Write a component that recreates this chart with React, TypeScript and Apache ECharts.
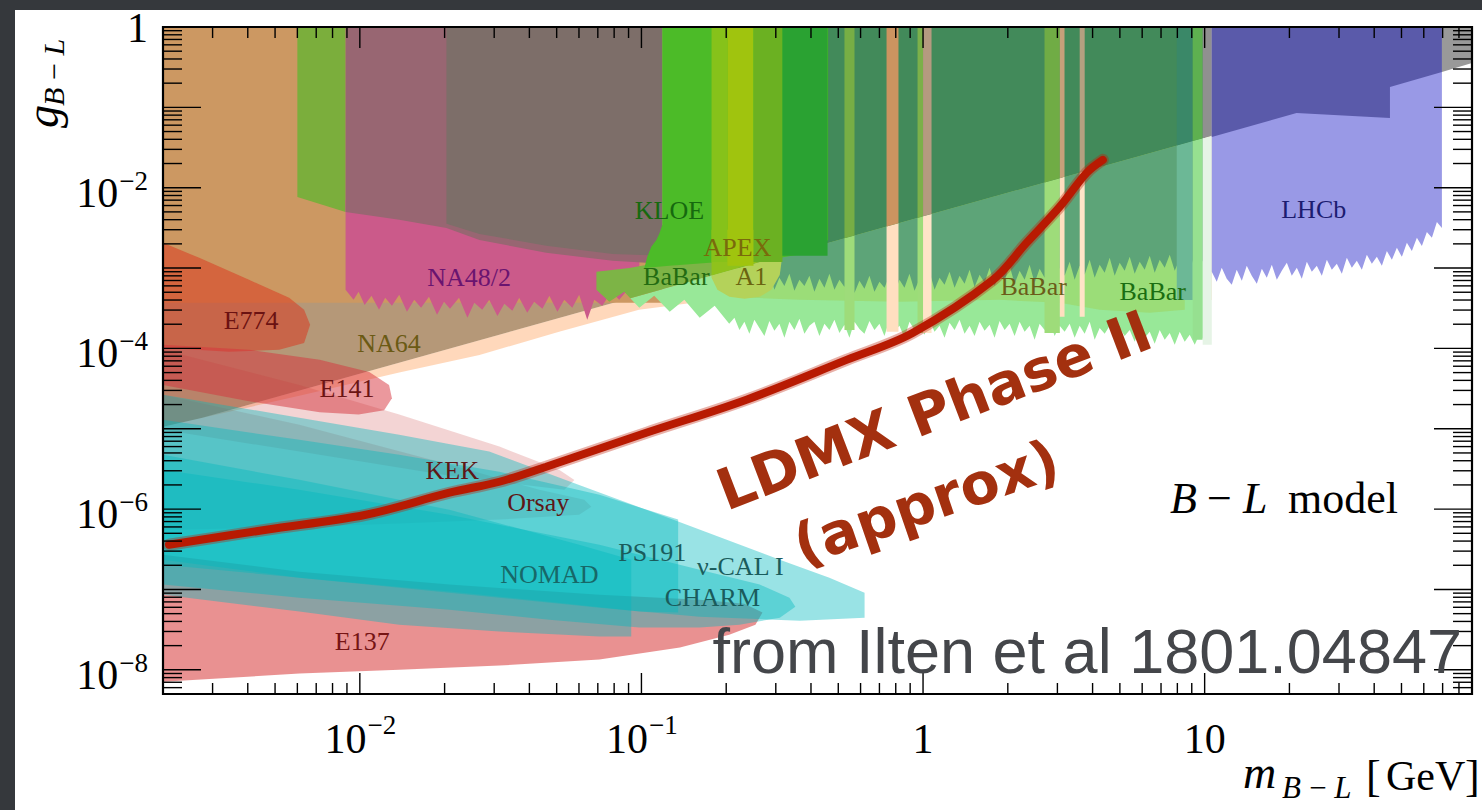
import React, { useEffect, useRef } from "react";
import * as echarts from "echarts";

type Pt = [number, number];

// ---------- axis ranges (GeV, coupling) ----------
const X_MIN = 0.002;
const X_MAX = 89;
const Y_MIN = 5e-9;
const Y_MAX = 1;

// ---------- ticks ----------
const X_MAJOR = [0.01, 0.1, 1, 10];
const X_DECADES = [0.001, 0.01, 0.1, 1, 10];
const Y_DECADES = [1e-9, 1e-8, 1e-7, 1e-6, 1e-5, 1e-4, 1e-3, 1e-2, 1e-1];
const MINOR_MULT = [2, 3, 4, 5, 6, 7, 8, 9];
const Y_MAJOR = [1e-8, 1e-7, 1e-6, 1e-5, 1e-4, 1e-3, 1e-2, 1e-1];

const X_LABEL_VALUES = [0.01, 0.1, 1, 10];
const X_LABEL_BASE = ["10", "10", "1", "10"];
const X_LABEL_EXP = ["\u22122", "\u22121", "", ""];
const Y_LABEL_VALUES = [1, 1e-2, 1e-4, 1e-6, 1e-8];
const Y_LABEL_BASE = ["1", "10", "10", "10", "10"];
const Y_LABEL_EXP = ["", "\u22122", "\u22124", "\u22126", "\u22128"];

// line separating the darker (upper) and lighter (lower) shading
const SPLIT_LINE: Pt[] = [[0.002, 1.0e-5], [89, 0.357]];

// ---------- exclusion regions [mass GeV, coupling] ----------
const NA64: Pt[] = [[0.002, 1], [10.6, 1], [10.6, 4.0e-4], [0.223, 4.38e-4], [0.098, 3.02e-4], [0.051, 1.61e-4], [0.0266, 8.3e-5], [0.0138, 5.0e-5], [0.0061, 2.57e-5], [0.002, 1.06e-5]];
const TAN_BLOCK: Pt[] = [[0.002, 1], [0.1187, 1], [0.1187, 3.69e-4], [0.002, 3.69e-4]];
const GREEN_BLOCK: Pt[] = [[0.006, 1], [0.0089, 1], [0.0089, 5.0e-3], [0.006, 7.68e-3]];
const NA48: Pt[] = [[0.0089, 7.05e-3], [0.0983, 7.05e-3], [0.0983, 4.64e-4], [0.0906, 5.67e-4], [0.0834, 4.02e-4], [0.0782, 5.06e-4], [0.0726, 3.39e-4], [0.068, 4.02e-4], [0.0642, 2.27e-4], [0.0601, 4.64e-4], [0.0568, 3.2e-4], [0.0532, 4.02e-4], [0.0503, 2.85e-4], [0.0471, 4.51e-4], [0.0445, 3.11e-4], [0.0416, 3.8e-4], [0.0393, 2.77e-4], [0.0368, 4.26e-4], [0.0348, 2.94e-4], [0.0326, 3.59e-4], [0.0308, 2.54e-4], [0.0288, 4.02e-4], [0.0272, 3.02e-4], [0.0255, 3.69e-4], [0.0241, 2.4e-4], [0.0225, 4.26e-4], [0.0209, 3.11e-4], [0.0199, 3.8e-4], [0.0188, 2.62e-4], [0.0176, 4.38e-4], [0.0165, 3.2e-4], [0.0156, 4.02e-4], [0.0147, 2.85e-4], [0.0138, 4.64e-4], [0.013, 3.39e-4], [0.0123, 4.26e-4], [0.0117, 3.02e-4], [0.011, 4.51e-4], [0.0104, 3.48e-4], [0.0099, 5.06e-4], [0.0095, 4.02e-4], [0.0089, 5.36e-4]];
const MAUVE: Pt[] = [[0.0089, 1], [0.1187, 1], [0.1187, 1.13e-3], [0.079, 1.23e-3], [0.0459, 1.55e-3], [0.0266, 2.24e-3], [0.0203, 3.16e-3], [0.0138, 3.98e-3], [0.0089, 5.0e-3]];
const GREYBROWN: Pt[] = [[0.0203, 1], [0.1187, 1], [0.1187, 1.42e-3], [0.079, 1.5e-3], [0.0459, 1.89e-3], [0.0266, 2.66e-3], [0.0203, 3.55e-3]];

// BaBar lower edges, sampled on a common mass grid
const BABAR_EDGE_M = [0.2139, 0.2228, 0.2321, 0.2417, 0.2518, 0.2624, 0.2733, 0.2847, 0.2966, 0.309, 0.3219, 0.3353, 0.3493, 0.3639, 0.3791, 0.3949, 0.4114, 0.4286, 0.4465, 0.4651, 0.4845, 0.5048, 0.5259, 0.5478, 0.5707, 0.5945, 0.6193, 0.6452, 0.6721, 0.7002, 0.7294, 0.7599, 0.7916, 0.8247, 0.8591, 0.895, 0.9327, 0.9717, 1.0123, 1.0546, 1.0986, 1.1445, 1.1923, 1.2421, 1.294, 1.348, 1.4043, 1.463, 1.524, 1.5877, 1.654, 1.7231, 1.795, 1.87, 1.9481, 2.0294, 2.1142, 2.2025, 2.2945, 2.3903, 2.4901, 2.5941, 2.7024, 2.8153, 2.9329, 3.0553, 3.1829, 3.3158, 3.4543, 3.5986, 3.7489, 3.9054, 4.0685, 4.2384, 4.4154, 4.5998, 4.7919, 4.992, 5.2005, 5.4177, 5.6439, 5.8796, 6.1251, 6.3809, 6.6474, 6.925, 7.2141, 7.5154, 7.8293, 8.1562, 8.4968, 8.8516, 9.2213, 9.6064, 10.007];
const BABAR_LIGHT_EDGE_G = [2.4e-4, 1.7e-4, 2.14e-4, 1.52e-4, 2.27e-4, 1.8e-4, 1.43e-4, 2.2e-4, 1.66e-4, 2.02e-4, 1.36e-4, 2.14e-4, 1.7e-4, 2.34e-4, 1.52e-4, 1.91e-4, 2.14e-4, 1.43e-4, 2.02e-4, 1.7e-4, 2.27e-4, 1.56e-4, 1.97e-4, 1.36e-4, 2.14e-4, 1.75e-4, 1.52e-4, 2.2e-4, 1.7e-4, 2.02e-4, 1.43e-4, 2.27e-4, 1.66e-4, 1.91e-4, 1.36e-4, 2.14e-4, 1.7e-4, 2.02e-4, 1.48e-4, 2.2e-4, 1.61e-4, 1.91e-4, 1.36e-4, 2.08e-4, 1.7e-4, 2.27e-4, 1.52e-4, 1.91e-4, 1.43e-4, 2.14e-4, 1.66e-4, 1.97e-4, 1.36e-4, 2.2e-4, 1.7e-4, 2.02e-4, 1.43e-4, 2.14e-4, 1.61e-4, 1.91e-4, 1.28e-4, 2.02e-4, 1.7e-4, 2.14e-4, 1.43e-4, 1.91e-4, 1.61e-4, 2.02e-4, 1.36e-4, 1.91e-4, 1.52e-4, 2.14e-4, 1.28e-4, 1.8e-4, 1.52e-4, 1.91e-4, 1.21e-4, 1.8e-4, 1.43e-4, 1.7e-4, 1.21e-4, 1.8e-4, 1.36e-4, 1.61e-4, 1.14e-4, 1.7e-4, 1.28e-4, 1.56e-4, 1.11e-4, 1.61e-4, 1.21e-4, 1.48e-4, 1.11e-4, 1.52e-4, 1.21e-4];
const BABAR_MID_EDGE_G = [1.065e-3, 9.5e-4, 6.36e-4, 8.47e-4, 5.67e-4, 8.0e-4, 6.74e-4, 8.97e-4, 5.36e-4, 7.55e-4, 6.0e-4, 8.47e-4, 5.21e-4, 7.13e-4, 6.0e-4, 8.0e-4, 5.06e-4, 7.34e-4, 5.67e-4, 8.47e-4, 5.36e-4, 7.13e-4, 5.83e-4, 8.23e-4, 4.91e-4, 6.93e-4, 5.51e-4, 8.0e-4, 5.06e-4, 6.74e-4, 5.67e-4, 8.0e-4, 4.78e-4, 7.13e-4, 5.67e-4, 8.47e-4, 5.21e-4, 7.34e-4, 6.0e-4, 8.97e-4, 5.36e-4, 7.55e-4, 6.18e-4, 8.97e-4, 5.67e-4, 8.0e-4, 6.36e-4, 9.5e-4, 5.83e-4, 8.23e-4, 6.55e-4, 1.006e-3, 6.0e-4, 8.72e-4, 6.93e-4, 1.065e-3, 6.36e-4, 9.23e-4, 7.13e-4, 1.096e-3, 6.55e-4, 9.77e-4, 7.55e-4, 1.128e-3, 6.93e-4, 1.006e-3, 8.0e-4, 1.194e-3, 7.13e-4, 1.065e-3, 8.23e-4, 1.265e-3, 7.55e-4, 1.096e-3, 8.72e-4, 1.339e-3, 8.0e-4, 1.161e-3, 9.23e-4, 1.378e-3, 8.47e-4, 1.194e-3, 9.5e-4, 1.418e-3, 8.72e-4, 1.265e-3, 1.006e-3, 1.46e-3, 9.23e-4, 1.301e-3, 1.065e-3, 1.546e-3, 9.77e-4, 1.339e-3, 1.128e-3];
const BABAR_LIGHT_LEFT: Pt[] = [[0.205, 2.02e-4], [0.182, 3.39e-4], [0.161, 2.4e-4], [0.142, 4.02e-4], [0.126, 2.85e-4], [0.111, 4.51e-4], [0.0983, 3.2e-4], [0.0869, 5.06e-4], [0.0769, 3.8e-4], [0.0692, 5.36e-4], [0.0692, 9.0e-4], [0.0906, 1.0e-3], [0.1187, 1.19e-3]];
const BABAR_OLIVE: Pt[] = [[0.2138, 1], [8.5, 1], [8.5, 3.02e-4], [6.38, 2.77e-4], [4.24, 3.02e-4], [3.06, 3.69e-4], [1.87, 4.02e-4], [0.826, 3.8e-4], [0.365, 4.02e-4], [0.2138, 4.38e-4]];

// vetoed mass windows in the BaBar search
const GAP_LO = [0.526, 0.742, 0.956, 1.0, 2.7, 3.06, 3.6, 7.96, 9.07, 9.84];
const GAP_HI = [0.571, 0.818, 1.0, 1.072, 3.06, 3.18, 3.75, 9.07, 9.84, 10.6];
const GAP_G = [1.7e-4, 1.61e-4, 1.56e-4, 1.56e-4, 1.56e-4, 2.47e-4, 2.47e-4, 4.0e-4, 1.28e-4, 1.11e-4];

const KLOE: Pt[] = [[0.1187, 1], [0.46, 1], [0.46, 2.24e-3], [0.4116, 1.59e-3], [0.31, 1.34e-3], [0.1891, 1.19e-3], [0.1257, 1.065e-3], [0.1024, 1.0e-3], [0.1049, 1.38e-3], [0.1084, 1.84e-3], [0.113, 2.24e-3], [0.116, 2.74e-3], [0.1187, 3.45e-3]];
const A1: Pt[] = [[0.1774, 2.99e-3], [0.3142, 2.99e-3], [0.3142, 1.19e-3], [0.31, 8.23e-4], [0.2894, 5.36e-4], [0.263, 4.38e-4], [0.2322, 4.14e-4], [0.2053, 4.38e-4], [0.1861, 5.36e-4], [0.1774, 7.55e-4]];
const KBAR_LO = [0.1774, 0.202, 0.25, 0.3167];
const KBAR_HI = [0.202, 0.25, 0.3167, 0.458];
const KBAR_G = [1.19e-3, 1.065e-3, 1.19e-3, 1.42e-3];

// LHCb lower edge
const LHCB_EDGE_M = [10.6, 11.04, 11.5, 11.98, 12.48, 13.0, 13.55, 14.11, 14.7, 15.32, 15.96, 16.62, 17.32, 18.04, 18.79, 19.58, 20.39, 21.25, 22.13, 23.06, 24.02, 25.02, 26.07, 27.16, 28.29, 29.47, 30.7, 31.98, 33.32, 34.71, 36.16, 37.67, 39.24, 40.88, 42.59, 44.37, 46.22, 48.15, 50.16, 52.25, 54.43, 56.71, 59.07, 61.54, 64.12, 66.79, 69.58];
const LHCB_EDGE_G = [8.97e-4, 6.74e-4, 1.006e-3, 7.34e-4, 6.18e-4, 9.5e-4, 6.93e-4, 1.065e-3, 8.0e-4, 6.36e-4, 9.77e-4, 7.55e-4, 1.096e-3, 7.13e-4, 9.23e-4, 1.161e-3, 8.0e-4, 1.006e-3, 7.34e-4, 1.194e-3, 8.97e-4, 1.065e-3, 8.0e-4, 1.265e-3, 9.5e-4, 1.128e-3, 8.47e-4, 1.339e-3, 1.006e-3, 1.229e-3, 9.5e-4, 1.46e-3, 1.128e-3, 1.378e-3, 1.065e-3, 1.636e-3, 1.265e-3, 1.783e-3, 1.378e-3, 2.058e-3, 1.636e-3, 2.375e-3, 1.888e-3, 2.82e-3, 2.375e-3, 3.755e-3, 3.162e-3];
const LHCB_TOP_G = 4.59e-3;
const LHCB_UPPER: Pt[] = [[10.6, 1], [69.6, 1], [69.6, 0.276], [45.5, 0.179], [45.5, 0.0738], [21.2, 0.0852], [10.6, 0.0428]];
const HIGHMASS: Pt[] = [[69.6, 1], [89, 1], [89, 0.357], [69.6, 0.276]];

const E774: Pt[] = [[0.002, 2.06e-3], [0.00269, 1.34e-3], [0.00404, 7.13e-4], [0.00561, 4.26e-4], [0.00634, 3.02e-4], [0.00666, 1.97e-4], [0.00634, 1.17e-4], [0.00517, 9.6e-5], [0.00343, 9.1e-5], [0.002, 1.02e-4]];
const E141: Pt[] = [[0.002, 1.11e-4], [0.00404, 9.6e-5], [0.0072, 7.2e-5], [0.0108, 5.1e-5], [0.0127, 3.5e-5], [0.013, 2.4e-5], [0.0122, 1.7e-5], [0.0099, 1.5e-5], [0.0072, 1.6e-5], [0.00404, 2.2e-5], [0.002, 3.5e-5]];
const KEK: Pt[] = [[0.002, 9.6e-5], [0.0061, 3.5e-5], [0.0138, 1.5e-5], [0.0313, 6.0e-6], [0.051, 3.1e-6], [0.0578, 2.3e-6], [0.0532, 1.74e-6], [0.0208, 2.6e-6], [0.0061, 5.2e-6], [0.002, 9.7e-6]];
const ORSAY: Pt[] = [[0.002, 2.65e-5], [0.0061, 1.12e-5], [0.0208, 3.6e-6], [0.0434, 1.74e-6], [0.0627, 1.31e-6], [0.0664, 1.07e-6], [0.0601, 8.5e-7], [0.0313, 7.4e-7], [0.0138, 6.6e-7], [0.0061, 6.0e-7], [0.002, 5.5e-7]];
const E137: Pt[] = [[0.002, 2.71e-7], [0.0061, 1.66e-7], [0.0208, 1.15e-7], [0.0709, 8.6e-8], [0.161, 7.47e-8], [0.232, 6.66e-8], [0.269, 5.15e-8], [0.254, 3.65e-8], [0.205, 2.74e-8], [0.137, 1.89e-8], [0.0709, 1.34e-8], [0.0313, 1.13e-8], [0.0138, 1.0e-8], [0.0061, 8.97e-9], [0.002, 7.1e-9]];
const NUCAL: Pt[] = [[0.002, 2.65e-5], [0.0061, 1.37e-5], [0.0138, 8.4e-6], [0.0288, 5.2e-6], [0.0601, 2.0e-6], [0.135, 7.0e-7], [0.31, 2.35e-7], [0.465, 1.4e-7], [0.62, 9.1e-8], [0.62, 4.46e-8], [0.365, 4.09e-8], [0.161, 4.59e-8], [0.0709, 5.94e-8], [0.0313, 7.9e-8], [0.0138, 1.05e-7], [0.0061, 1.4e-7], [0.002, 2.03e-7]];
const PS191: Pt[] = [[0.002, 1.29e-5], [0.0061, 7.3e-6], [0.0138, 4.75e-6], [0.0313, 2.92e-6], [0.0709, 1.51e-6], [0.135, 7.4e-7], [0.135, 5.15e-8], [0.0983, 5.3e-8], [0.0471, 7.05e-8], [0.0208, 9.4e-8], [0.0061, 1.4e-7], [0.002, 2.35e-7]];
const CHARM: Pt[] = [[0.002, 3.09e-6], [0.0061, 1.74e-6], [0.0208, 8.5e-7], [0.0709, 3.6e-7], [0.161, 1.76e-7], [0.263, 1.15e-7], [0.3355, 7.9e-8], [0.352, 6.1e-8], [0.31, 4.46e-8], [0.223, 3.65e-8], [0.161, 3.35e-8], [0.0983, 3.35e-8], [0.0471, 4.21e-8], [0.0208, 5.61e-8], [0.0061, 7.9e-8], [0.002, 1.15e-7]];
const NOMAD: Pt[] = [[0.002, 4.75e-6], [0.0061, 2.32e-6], [0.0208, 9.8e-7], [0.0601, 3.6e-7], [0.092, 2.35e-7], [0.092, 2.59e-8], [0.0709, 2.59e-8], [0.0313, 2.99e-8], [0.0138, 3.65e-8], [0.0061, 5.3e-8], [0.002, 8.6e-8]];

// ---------- LDMX Phase II projection ----------
const LDMX_M = [0.0021, 0.00465, 0.0105, 0.0208, 0.0313, 0.0459, 0.104, 0.236, 0.535, 0.918, 1.77, 2.33, 3.06, 3.81, 4.35];
const LDMX_G = [3.6e-7, 5.54e-7, 8.5e-7, 1.6e-6, 2.19e-6, 3.37e-6, 8.9e-6, 2.3e-5, 7.2e-5, 1.56e-4, 7.1e-4, 2.06e-3, 5.8e-3, 0.0153, 0.0222];

// ---------- region labels ----------
const LABEL_TEXT = ["KLOE", "APEX", "BaBar", "A1", "NA48/2", "E774", "NA64", "E141", "KEK", "Orsay", "NOMAD", "PS191", "\u03bd-CAL I", "CHARM", "E137", "BaBar", "BaBar", "LHCb"];
const LABEL_M = [0.1257, 0.2193, 0.133, 0.2458, 0.02445, 0.00411, 0.0127, 0.009, 0.0213, 0.043, 0.0471, 0.1093, 0.2246, 0.1786, 0.0102, 2.47, 6.54, 24.4];
const LABEL_G = [5.15e-3, 1.78e-3, 7.77e-4, 7.77e-4, 7.55e-4, 2.2e-4, 1.14e-4, 3.14e-5, 3.0e-6, 1.2e-6, 1.53e-7, 2.87e-7, 1.92e-7, 7.9e-8, 2.24e-8, 5.83e-4, 5.06e-4, 5.3e-3];
const LABEL_COLOR = ["#16690f", "#7a6a0c", "#236b12", "#6b6410", "#6a1470", "#6b1212", "#6b5a14", "#6b1414", "#5e1616", "#5e1616", "#176868", "#1a5c5c", "#1a5c5c", "#1a5c5c", "#761414", "#6b5c1a", "#1a6e12", "#1c1c70"];

const GAP_DARK = ["#77ae45", "#cc9460", "#7cb04a", "#b59a80", "#70ac45", "#c7a07a", "#b5a080", "#3a8868", "#5eb050", "#909090"];
const GAP_LIGHT = ["#9edc7a", "#ffdfc0", "#9edc7a", "#ffe4c8", "#9edc7a", "#ffdfc0", "#ffe4c8", "#6cb896", "#96e090", "#e6f4e6"];
const KBAR_COLOR = ["#86c21a", "#a0c40e", "#6bb122", "#2aa232"];

const SERIF = '"Liberation Serif", "Times New Roman", serif';
const TEAL = "rgba(0,185,190,0.4)";

const lg = Math.log10;
const toLog = (p: Pt) => [lg(p[0]), lg(p[1])];

function edgePoly(topLeftM: number, ms: number[], gs: number[], extraTop: Pt[], tail: Pt[]): Pt[] {
  const pts: Pt[] = [[topLeftM, 1], [ms[ms.length - 1], 1], ...extraTop];
  for (let i = ms.length - 1; i >= 0; i--) pts.push([ms[i], gs[i]]);
  return pts.concat(tail);
}

function clipPoly(poly: number[][], g: (p: number[]) => number) {
  const out: number[][] = [];
  for (let i = 0; i < poly.length; i++) {
    const A = poly[i];
    const B = poly[(i + 1) % poly.length];
    const ga = g(A);
    const gb = g(B);
    if (ga >= 0) out.push(A);
    if ((ga >= 0) !== (gb >= 0)) {
      const t = ga / (ga - gb);
      out.push([A[0] + t * (B[0] - A[0]), A[1] + t * (B[1] - A[1])]);
    }
  }
  return out;
}

function splitFn(api: any) {
  const a = api.coord(toLog(SPLIT_LINE[0]));
  const b = api.coord(toLog(SPLIT_LINE[1]));
  return (p: number[]) => p[1] - (a[1] + ((p[0] - a[0]) * (b[1] - a[1])) / (b[0] - a[0]));
}

function splitShapes(px: number[][], api: any, light: string, dark?: string) {
  if (!dark) return [{ type: "polygon", shape: { points: px }, style: { fill: light } }];
  const f = splitFn(api);
  const up = clipPoly(px, (p) => -f(p));
  const dn = clipPoly(px, (p) => f(p));
  const ch: any[] = [];
  if (dn.length > 2) ch.push({ type: "polygon", shape: { points: dn }, style: { fill: light } });
  if (up.length > 2) ch.push({ type: "polygon", shape: { points: up }, style: { fill: dark } });
  return ch;
}

function region(name: string, pts: Pt[], fill: string, dark?: string): any {
  return {
    type: "custom",
    name,
    coordinateSystem: "cartesian2d",
    clip: true,
    silent: true,
    z: 2,
    data: [toLog(pts[0])],
    renderItem: (_p: any, api: any) => {
      const px = pts.map((p) => api.coord(toLog(p)));
      return { type: "group", children: splitShapes(px, api, fill, dark) };
    },
  };
}

function bands(name: string, lo: number[], hi: number[], gb: number[], light: string[], dark?: string[]): any {
  return {
    type: "custom",
    name,
    coordinateSystem: "cartesian2d",
    clip: true,
    silent: true,
    z: 2,
    data: lo.map((l, i) => [lg(l), lg(gb[i]), lg(hi[i]), i]),
    renderItem: (_p: any, api: any) => {
      const x0 = api.value(0);
      const yb = api.value(1);
      const x1 = api.value(2);
      const i = api.value(3);
      const yt = lg(Y_MAX);
      const px = [api.coord([x0, yt]), api.coord([x1, yt]), api.coord([x1, yb]), api.coord([x0, yb])];
      return { type: "group", children: splitShapes(px, api, light[i], dark ? dark[i] : undefined) };
    },
  };
}

function txt(x: number, y: number, text: string, size: number, align: string, extra: any = {}) {
  return {
    type: "text",
    x,
    y,
    style: {
      text,
      fill: "#000",
      fontSize: size,
      fontFamily: SERIF,
      align,
      textAlign: align,
      verticalAlign: "middle",
      textVerticalAlign: "middle",
      ...extra,
    },
  };
}

function buildOption(): any {
  const tickData: number[][] = [];
  X_MAJOR.forEach((v) => tickData.push([lg(v), 0]));
  X_DECADES.forEach((d) =>
    MINOR_MULT.forEach((k) => {
      const v = d * k;
      if (v > X_MIN * 1.01 && v < X_MAX * 0.99) tickData.push([lg(v), 1]);
    })
  );
  Y_MAJOR.forEach((v) => tickData.push([lg(v), 2]));
  Y_DECADES.forEach((d) =>
    MINOR_MULT.forEach((k) => {
      const v = d * k;
      if (v > Y_MIN * 1.01 && v < Y_MAX * 0.99) tickData.push([lg(v), 3]);
    })
  );

  const labelTickData: number[][] = [];
  X_LABEL_VALUES.forEach((v, i) => labelTickData.push([lg(v), 0, i]));
  Y_LABEL_VALUES.forEach((v, i) => labelTickData.push([lg(v), 1, i]));

  const babarLight = edgePoly(0.1187, BABAR_EDGE_M, BABAR_LIGHT_EDGE_G, [], BABAR_LIGHT_LEFT);
  const babarMid = edgePoly(0.2139, BABAR_EDGE_M, BABAR_MID_EDGE_G, [], []);
  const lhcb = edgePoly(10.6, LHCB_EDGE_M, LHCB_EDGE_G, [[LHCB_EDGE_M[LHCB_EDGE_M.length - 1], LHCB_TOP_G]], []);

  const series: any[] = [
    region("NA64", NA64, "rgba(255,150,70,0.37)", "rgba(132,83,30,0.6)"),
    region("low-mass", TAN_BLOCK, "#cc9862"),
    region("low-mass-2", GREEN_BLOCK, "#7bae3c"),
    region("NA48/2", NA48, "#cb5a8a"),
    region("low-mass-3", MAUVE, "#986672"),
    region("low-mass-4", GREYBROWN, "#7d6e69"),
    region("BaBar", babarLight, "#98e898", "#7db446"),
    region("BaBar-olive", BABAR_OLIVE, "rgba(160,200,60,0.35)"),
    region("BaBar-mid", babarMid, "#5da478", "#428a5a"),
    bands("BaBar gaps", GAP_LO, GAP_HI, GAP_G, GAP_LIGHT, GAP_DARK),
    region("KLOE", KLOE, "#4cbb28"),
    region("A1", A1, "#b4d25a", "#8fc21c"),
    bands("APEX", KBAR_LO, KBAR_HI, KBAR_G, KBAR_COLOR),
    region("LHCb", lhcb, "#9999e6"),
    region("LHCb-upper", LHCB_UPPER, "#5a5aaa"),
    region("high-mass", HIGHMASS, "#999999"),
    region("E774", E774, "rgba(220,50,25,0.5)"),
    region("E141", E141, "rgba(215,50,60,0.5)"),
    region("KEK", KEK, "rgba(200,60,60,0.22)"),
    region("Orsay", ORSAY, "rgba(200,60,60,0.2)"),
    region("E137", E137, "rgba(215,55,55,0.55)"),
    region("nuCal", NUCAL, TEAL),
    region("PS191", PS191, TEAL),
    region("CHARM", CHARM, TEAL),
    region("NOMAD", NOMAD, TEAL),
    {
      type: "custom",
      name: "labels",
      coordinateSystem: "cartesian2d",
      silent: true,
      z: 10,
      data: LABEL_TEXT.map((_, i) => [lg(LABEL_M[i]), lg(LABEL_G[i]), i]),
      renderItem: (_p: any, api: any) => {
        const i = api.value(2);
        const c = api.coord([api.value(0), api.value(1)]);
        return txt(c[0], c[1], LABEL_TEXT[i], 26, "center", { fill: LABEL_COLOR[i] });
      },
    },
    {
      type: "line",
      name: "LDMX halo",
      data: LDMX_M.map((m, i) => [lg(m), lg(LDMX_G[i])]),
      smooth: 0.35,
      showSymbol: false,
      silent: true,
      z: 11,
      lineStyle: { width: 12, color: "rgba(190,30,5,0.35)", cap: "round" },
    },
    {
      type: "line",
      name: "LDMX Phase II",
      data: LDMX_M.map((m, i) => [lg(m), lg(LDMX_G[i])]),
      smooth: 0.35,
      showSymbol: false,
      silent: true,
      z: 12,
      lineStyle: { width: 8, color: "#b81a02", cap: "round" },
    },
    {
      type: "custom",
      name: "ticks",
      coordinateSystem: "cartesian2d",
      silent: true,
      z: 20,
      data: tickData,
      renderItem: (params: any, api: any) => {
        const cs = params.coordSys;
        const L = cs.x;
        const R = cs.x + cs.width;
        const T = cs.y;
        const B = cs.y + cs.height;
        const v = api.value(0);
        const k = api.value(1);
        const st = { stroke: "#000", lineWidth: 1.4 };
        if (k < 2) {
          const x = api.coord([v, lg(Y_MIN)])[0];
          const len = k === 0 ? 21 : 11;
          return {
            type: "group",
            children: [
              { type: "line", shape: { x1: x, y1: B, x2: x, y2: B - len }, style: st },
              { type: "line", shape: { x1: x, y1: T, x2: x, y2: T + len }, style: st },
            ],
          };
        }
        const y = api.coord([lg(X_MIN), v])[1];
        const len = k === 2 ? 38 : 19;
        return {
          type: "group",
          children: [
            { type: "line", shape: { x1: L, y1: y, x2: L + len, y2: y }, style: st },
            { type: "line", shape: { x1: R, y1: y, x2: R - len, y2: y }, style: st },
          ],
        };
      },
    },
    {
      type: "custom",
      name: "tick labels",
      coordinateSystem: "cartesian2d",
      silent: true,
      z: 20,
      data: labelTickData,
      renderItem: (_p: any, api: any) => {
        const v = api.value(0);
        const ax = api.value(1);
        const i = api.value(2);
        const ch: any[] = [];
        if (ax === 0) {
          const x = api.coord([v, lg(Y_MIN)])[0];
          const base = X_LABEL_BASE[i];
          const exp = X_LABEL_EXP[i];
          const bw = base.length * 0.5 * 42;
          const ew = exp ? 1.064 * 27 : 0;
          const left = x - (bw + ew) / 2;
          ch.push(txt(left, 739, base, 42, "left"));
          if (exp) ch.push(txt(left + bw + 1, 725, exp, 27, "left"));
        } else {
          const y = api.coord([lg(X_MIN), v])[1];
          const base = Y_LABEL_BASE[i];
          const exp = Y_LABEL_EXP[i];
          const xr = 148;
          if (exp) {
            const ew = 1.064 * 27;
            ch.push(txt(xr, y - 7, exp, 27, "right"));
            ch.push(txt(xr - ew - 1, y + 5, base, 42, "right"));
          } else {
            ch.push(txt(xr, y + 1, base, 42, "right"));
          }
        }
        return { type: "group", children: ch };
      },
    },
  ];

  const gtext = (x: number, y: number, text: string, size: number, align: string, extra: any = {}) => ({
    type: "text",
    x,
    y,
    z: 30,
    silent: true,
    style: {
      text,
      fill: "#000",
      fontSize: size,
      fontFamily: SERIF,
      align,
      textAlign: align,
      verticalAlign: "middle",
      textVerticalAlign: "middle",
      ...extra,
    },
  });

  const graphic: any[] = [
    { type: "rect", z: 30, silent: true, shape: { x: 0, y: 0, width: 1482, height: 10 }, style: { fill: "#35383c" } },
    { type: "rect", z: 30, silent: true, shape: { x: 0, y: 0, width: 15, height: 810 }, style: { fill: "#35383c" } },
    { type: "rect", z: 40, silent: true, shape: { x: 163, y: 27, width: 1309, height: 667 }, style: { fill: "none", stroke: "#000", lineWidth: 2.2 } },
    {
      type: "group",
      x: 58,
      y: 128,
      rotation: Math.PI / 2,
      z: 30,
      children: [
        gtext(0, -15.5, "g", 46, "left", { fontStyle: "italic" }),
        gtext(22, -5, "B\u2009\u2212\u2009L", 30, "left", { fontStyle: "italic" }),
      ],
    },
    gtext(1243, 772, "m", 46, "left", { fontStyle: "italic" }),
    gtext(1282, 787, "B\u2009\u2212\u2009L", 31, "left", { fontStyle: "italic" }),
    gtext(1366, 776, "[", 44, "left"),
    gtext(1386, 776, "GeV", 42, "left"),
    gtext(1465, 776, "]", 44, "left"),
    gtext(1170, 498, "B", 44, "left", { fontStyle: "italic" }),
    gtext(1207, 498, "\u2212", 44, "left"),
    gtext(1243, 498, "L", 44, "left", { fontStyle: "italic" }),
    gtext(1288, 498, "model", 44, "left"),
    {
      type: "text",
      x: 934,
      y: 410,
      rotation: (21 * Math.PI) / 180,
      z: 35,
      silent: true,
      style: {
        text: "LDMX Phase II",
        fill: "#a3300f",
        fontSize: 57,
        fontWeight: "bold",
        fontFamily: '"DejaVu Sans", sans-serif',
        align: "center",
        textAlign: "center",
        verticalAlign: "middle",
        textVerticalAlign: "middle",
      },
    },
    {
      type: "text",
      x: 926,
      y: 502,
      rotation: (19 * Math.PI) / 180,
      z: 35,
      silent: true,
      style: {
        text: "(approx)",
        fill: "#a3300f",
        fontSize: 57,
        fontWeight: "bold",
        fontFamily: '"DejaVu Sans", sans-serif',
        align: "center",
        textAlign: "center",
        verticalAlign: "middle",
        textVerticalAlign: "middle",
      },
    },
    {
      type: "text",
      x: 1462,
      y: 651,
      z: 45,
      silent: true,
      style: {
        text: "from Ilten et al 1801.04847",
        fill: "#44464a",
        fontSize: 63,
        fontFamily: '"Liberation Sans", Arial, sans-serif',
        align: "right",
        textAlign: "right",
        verticalAlign: "middle",
        textVerticalAlign: "middle",
      },
    },
  ];

  return {
    animation: false,
    backgroundColor: "#ffffff",
    grid: { left: 163, right: 10, top: 27, bottom: 116, containLabel: false },
    xAxis: { type: "value", min: lg(X_MIN), max: lg(X_MAX), show: false },
    yAxis: { type: "value", min: lg(Y_MIN), max: lg(Y_MAX), show: false },
    series,
    graphic,
  };
}

export default function App() {
  const ref = useRef<HTMLDivElement>(null);
  useEffect(() => {
    if (!ref.current) return;
    const chart = echarts.init(ref.current, undefined, { renderer: "svg" });
    chart.setOption(buildOption());
    return () => chart.dispose();
  }, []);
  return (
    <div
      ref={ref}
      style={{ position: "absolute", left: 0, top: 0, width: 1482, height: 810, background: "#fff" }}
    />
  );
}
